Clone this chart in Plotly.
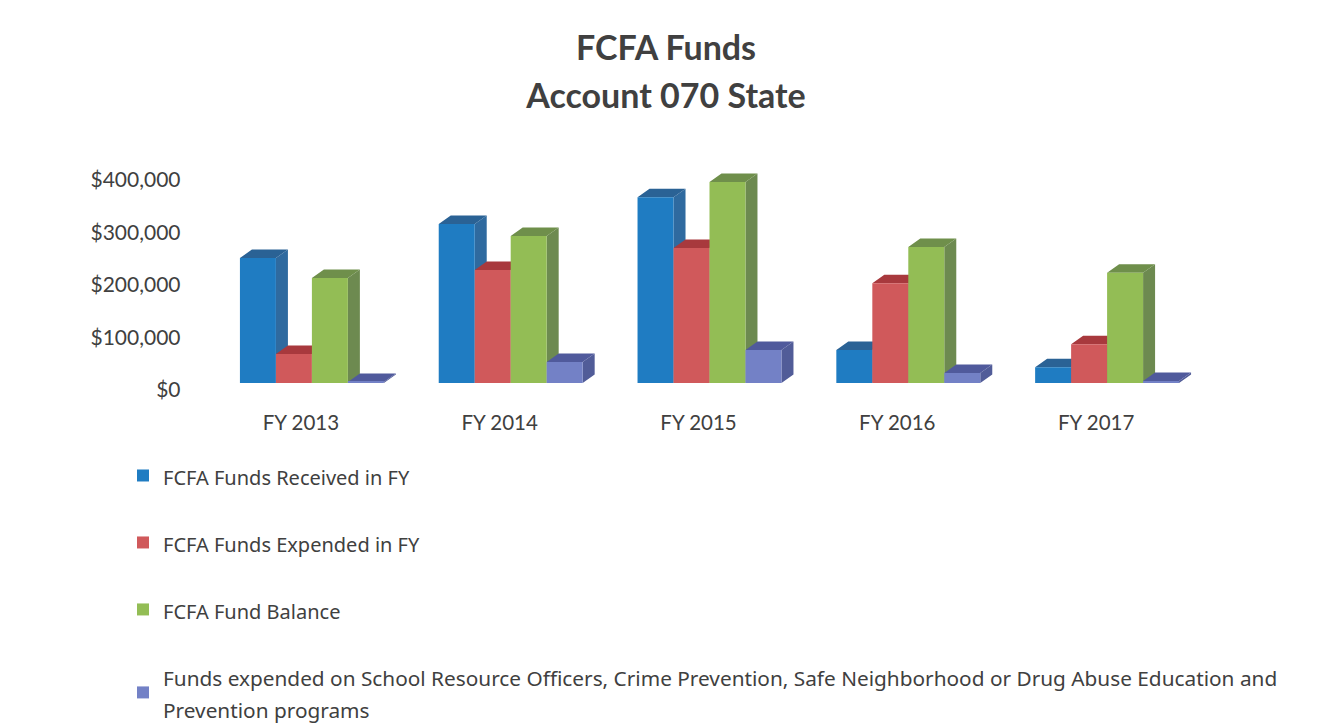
import plotly.graph_objects as go

years = ["FY 2013", "FY 2014", "FY 2015", "FY 2016", "FY 2017"]
tick_values = [0, 100000, 200000, 300000, 400000]
tick_labels = ["$0", "$100,000", "$200,000", "$300,000", "$400,000"]

received = [238000, 303000, 354000, 63000, 30000]
expended = [55000, 215000, 257000, 190000, 74000]
balance = [200000, 280000, 383000, 259000, 210000]
school_programs = [2000, 40000, 63000, 19000, 4000]

names = [
    "FCFA Funds Received in FY",
    "FCFA Funds Expended in FY",
    "FCFA Fund Balance",
    "Funds expended on School Resource Officers, Crime Prevention, Safe Neighborhood or Drug Abuse Education and<br>Prevention programs",
]
legend_sizes = [20, 20, 20, 20.8]
series = [received, expended, balance, school_programs]
front_colors = ["#1f7cc2", "#d0595b", "#93bd55", "#7381c6"]
top_colors = ["#2a6295", "#a8393d", "#6f8f4b", "#505a9c"]
side_colors = ["#2f6a9f", "#9c3a3e", "#6d8a50", "#515c98"]

FONT = "Lato, Carlito, Calibri, sans-serif"
LEGEND_FONT = "'Noto Sans', sans-serif"
TEXT = "#404040"
W, H = 1324, 723
PLOT_L, PLOT_R, PLOT_T, PLOT_B = 212.5, 1206.5, 150, 383
PX_PER_UNIT = 52.5 / 100000
y_top = (PLOT_B - PLOT_T) / PX_PER_UNIT
bargap = 0.276
n_series = len(series)
bar_w = (1 - bargap) / n_series
depth_x = 12 / ((PLOT_R - PLOT_L) / len(years))
depth_y = 8.5 / PX_PER_UNIT


def legend_label(name, size):
    span = f'<span style="font-size:{size}px">'
    return span + name.replace("<br>", "</span><br>" + span) + "</span>"


fig = go.Figure()

for s, vals in enumerate(series):
    tx, ty, sx, sy = [], [], [], []
    for i, v in enumerate(vals):
        left = i - (1 - bargap) / 2 + s * bar_w
        right = left + bar_w
        tx += [left, left + depth_x, right + depth_x, right, left, None]
        ty += [v, v + depth_y, v + depth_y, v, v, None]
        sx += [right, right + depth_x, right + depth_x, right, right, None]
        sy += [0, depth_y, v + depth_y, v, 0, None]
    for xs, ys, col in ((sx, sy, side_colors[s]), (tx, ty, top_colors[s])):
        fig.add_trace(go.Scatter(x=xs, y=ys, mode="lines", fill="toself", fillcolor=col,
                                 line=dict(width=0, color=col), showlegend=False,
                                 hoverinfo="skip", xaxis="x", yaxis="y"))

for s, vals in enumerate(series):
    fig.add_trace(go.Bar(x=list(range(len(years))), y=vals,
                         name=legend_label(names[s], legend_sizes[s]),
                         marker=dict(color=front_colors[s], line=dict(width=0)),
                         legendgroup=f"g{s}", xaxis="x2", yaxis="y2"))

axis_x = dict(range=[-0.5, len(years) - 0.5], domain=[PLOT_L / W, PLOT_R / W])
axis_y = dict(range=[0, y_top], domain=[1 - PLOT_B / H, 1 - PLOT_T / H])
title_span = '<span style="font-size:34px"><b>{}</b></span>'

fig.update_layout(
    width=W, height=H, autosize=False,
    margin=dict(l=0, r=0, t=0, b=0, autoexpand=False),
    paper_bgcolor="white", plot_bgcolor="white",
    barmode="group", bargap=bargap, bargroupgap=0,
    font=dict(family=FONT, color=TEXT, size=18),
    title=dict(text=title_span.format("FCFA Funds") + "<br>" + title_span.format("Account 070 State"),
               x=666 / W, xanchor="center", y=1 - 60 / H, yanchor="top",
               automargin=False,
               font=dict(family=FONT, size=36.9, color=TEXT)),
    xaxis=dict(**axis_x, tickmode="array", tickvals=list(range(len(years))), ticktext=years,
               showgrid=False, zeroline=False, showline=False, ticks="",
               tickfont=dict(family=FONT, size=20.5, color=TEXT),
               ticklabelstandoff=25, ticklabelshift=-11),
    yaxis=dict(**axis_y, tickmode="array", tickvals=tick_values, ticktext=tick_labels,
               showgrid=False, zeroline=False, showline=False, ticks="",
               tickfont=dict(family=FONT, size=21, color=TEXT),
               ticklabelstandoff=31, ticklabelshift=7),
    xaxis2=dict(**axis_x, overlaying="x", visible=False, anchor="y2"),
    yaxis2=dict(**axis_y, overlaying="y", visible=False, anchor="x2"),
    legend=dict(x=123 / W, xanchor="left", y=1 - 453 / H, yanchor="top",
                traceorder="grouped", tracegroupgap=32, itemclick=False, itemdoubleclick=False,
                font=dict(family=LEGEND_FONT, size=24.6, color=TEXT), bgcolor="rgba(0,0,0,0)"),
)

fig.write_html("out.html", config={"displayModeBar": False},
               post_script="document.body.style.margin='0';")
